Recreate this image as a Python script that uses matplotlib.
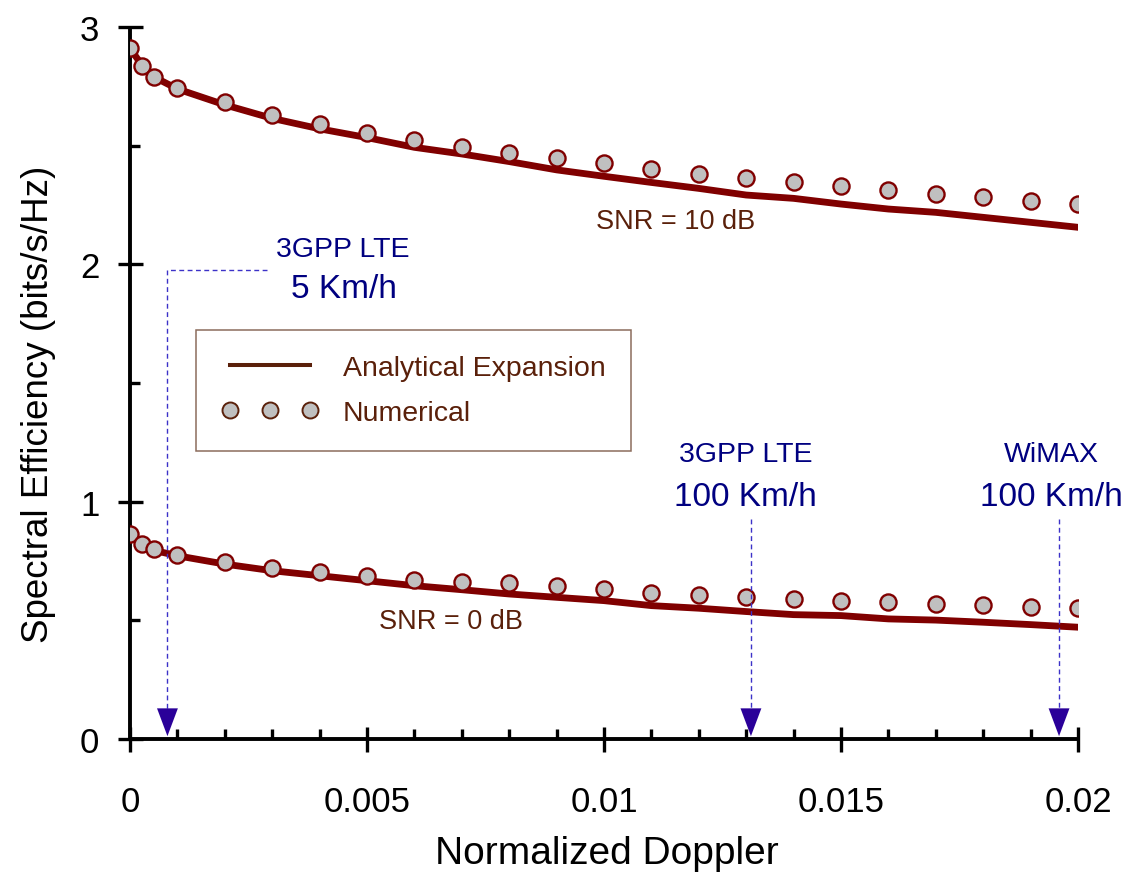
import matplotlib
matplotlib.use("Agg")
import matplotlib.pyplot as plt
from matplotlib.lines import Line2D

plt.rcParams["font.family"] = ["Liberation Sans Narrow", "Liberation Sans", "DejaVu Sans"]

# Normalized Doppler grid
doppler = [0.0, 0.00025, 0.0005, 0.001, 0.002, 0.003, 0.004, 0.005, 0.006,
           0.007, 0.008, 0.009, 0.010, 0.011, 0.012, 0.013, 0.014, 0.015,
           0.016, 0.017, 0.018, 0.019, 0.020]

# SNR = 10 dB
num_10db = [2.910, 2.835, 2.790, 2.745, 2.682, 2.631, 2.591, 2.553, 2.524,
            2.496, 2.469, 2.446, 2.425, 2.402, 2.381, 2.362, 2.345, 2.330,
            2.312, 2.298, 2.284, 2.268, 2.253]
ana_10db = [2.910, 2.840, 2.790, 2.739, 2.672, 2.615, 2.571, 2.534, 2.493,
            2.465, 2.433, 2.398, 2.371, 2.345, 2.320, 2.292, 2.278, 2.254,
            2.233, 2.219, 2.198, 2.177, 2.156]

# SNR = 0 dB
num_0db = [0.864, 0.822, 0.801, 0.777, 0.747, 0.721, 0.702, 0.686, 0.671,
           0.663, 0.656, 0.643, 0.630, 0.615, 0.607, 0.597, 0.590, 0.583,
           0.576, 0.569, 0.565, 0.558, 0.552]
ana_0db = [0.864, 0.820, 0.795, 0.772, 0.737, 0.709, 0.688, 0.667, 0.646,
           0.629, 0.611, 0.597, 0.583, 0.562, 0.551, 0.537, 0.524, 0.520,
           0.506, 0.501, 0.492, 0.482, 0.471]

# Normalized Doppler of the reference systems
system_labels = ["3GPP LTE", "3GPP LTE", "WiMAX"]
system_speeds = ["5 Km/h", "100 Km/h", "100 Km/h"]
system_doppler = [0.00079, 0.0131, 0.0196]

x_ticks = [0, 0.005, 0.01, 0.015, 0.02]
x_ticklabels = ["0", "0.005", "0.01", "0.015", "0.02"]
y_ticks = [0, 1, 2, 3]

LINE = "#800000"
FACE = "#c0c0c0"
BROWN = "#5a200a"
NAVY = "#000080"
ARROW = "#2a0099"
DASH = "#3c32c8"

fig = plt.figure(figsize=(11.27, 8.78), dpi=100)
ax = fig.add_axes([130 / 1127, 138 / 878, 948 / 1127, 712 / 878])

for ana, num in ((ana_10db, num_10db), (ana_0db, num_0db)):
    ax.plot(doppler, ana, color=LINE, lw=4.9, solid_joinstyle="miter",
            zorder=3)
    ax.plot(doppler, num, ls="none", marker="o", ms=11.6, mfc=FACE,
            mec=LINE, mew=1.7, zorder=4)

ax.set_xlim(0, 0.02)
ax.set_ylim(0, 3)
for s in ("top", "right"):
    ax.spines[s].set_visible(False)
for s in ("left", "bottom"):
    ax.spines[s].set_linewidth(2.8)
    ax.spines[s].set_capstyle("butt")

ax.set_xticks(x_ticks)
ax.set_xticklabels(x_ticklabels)
ax.set_xticks([i / 1000 for i in range(21)], minor=True)
ax.set_yticks(y_ticks)
ax.set_yticks([0.5, 1.5, 2.5], minor=True)
ax.tick_params(which="major", direction="inout", length=18, width=2.4,
               labelsize=25, color="black")
ax.tick_params(axis="x", which="major", pad=24)
ax.tick_params(axis="y", which="major", pad=13)
ax.tick_params(which="minor", direction="in", length=7, width=2.4)

ax.set_xlabel("Normalized Doppler", fontsize=28)
ax.set_ylabel("Spectral Efficiency (bits/s/Hz)", fontsize=26.5)
ax.xaxis.set_label_coords(0.503, -0.135)
ax.yaxis.set_label_coords(-0.078, 0.472)

# Curve labels
ax.text(0.0115, 2.184, "SNR = 10 dB", fontsize=19.5, color=BROWN,
        ha="center", va="center")
ax.text(0.00678, 0.4985, "SNR = 0 dB", fontsize=19.5, color=BROWN,
        ha="center", va="center")

# System markers: dashed leaders ending in arrowheads on the axis
dash_kw = dict(color=DASH, lw=1.0, ls=(0, (3.5, 2.5)), zorder=6)
tip = 0.012
# LTE 5 Km/h: elbow leader from the label
ax.plot([0.00290, system_doppler[0], system_doppler[0]],
        [1.978, 1.978, tip + 0.05], **dash_kw)
ax.text(0.00449, 2.065, system_labels[0], fontsize=20.5, color=NAVY,
        ha="center", va="center")
ax.text(0.00451, 1.900, system_speeds[0], fontsize=24, color=NAVY,
        ha="center", va="center")
# 100 Km/h systems: vertical leaders
for xd, lab, spd, xt in ((system_doppler[1], system_labels[1],
                          system_speeds[1], 0.01299),
                         (system_doppler[2], system_labels[2],
                          system_speeds[2], 0.01944)):
    ax.plot([xd, xd], [0.927, tip + 0.05], **dash_kw)
    ax.text(xt, 1.201, lab, fontsize=20.5, color=NAVY, ha="center",
            va="center")
    ax.text(xt, 1.022, spd, fontsize=24, color=NAVY,
            ha="center", va="center")

for xd in system_doppler:
    ax.annotate("", xy=(xd, tip), xytext=(xd, tip + 0.1),
                arrowprops=dict(arrowstyle="-|>,head_length=1.6,head_width=0.6",
                                mutation_scale=12.5, color=ARROW, lw=0.01,
                                shrinkA=0, shrinkB=0),
                zorder=7)

# Legend
handles = [
    Line2D([], [], color=BROWN, lw=2.9),
    Line2D([], [], ls="none", marker="o", ms=11.5, mfc=FACE, mec=BROWN,
           mew=1.4),
]
leg = ax.legend(handles, ["Analytical Expansion", "Numerical"],
                loc="upper left", bbox_to_anchor=(0.0696, 0.5744),
                borderaxespad=0, fontsize=20.5, numpoints=3,
                handlelength=3.44, handletextpad=0.84, borderpad=0.88,
                labelspacing=0.66, fancybox=False, framealpha=1,
                edgecolor="#8c6c5c")
leg.get_frame().set_linewidth(1.1)
for t in leg.get_texts():
    t.set_color(BROWN)

fig.savefig("out.png", dpi=100)
